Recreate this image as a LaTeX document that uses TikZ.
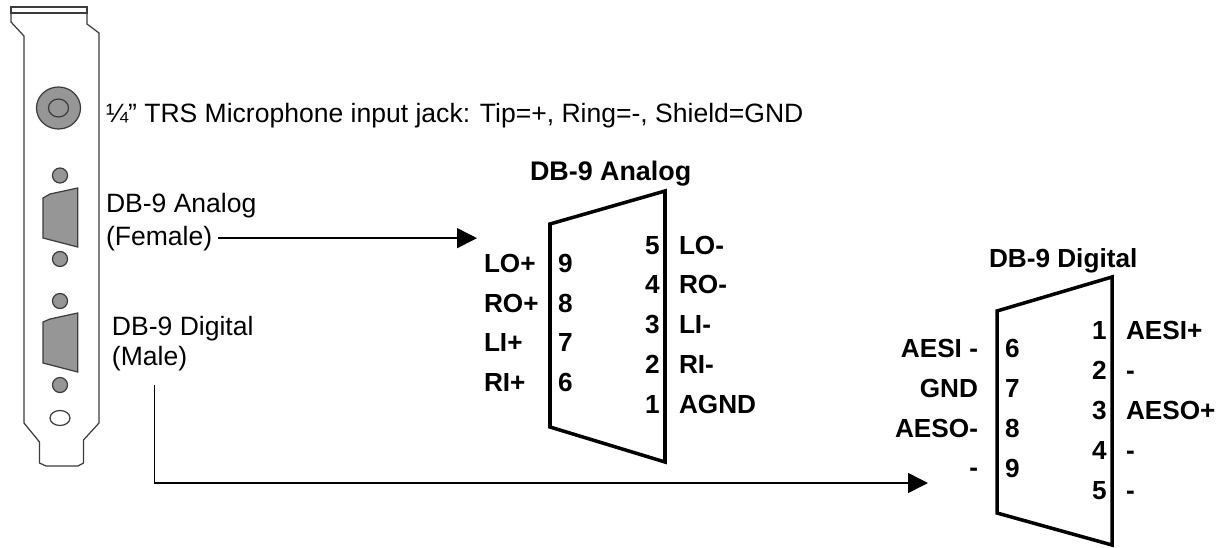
\documentclass[tikz,border=0pt]{standalone}
\usepackage{fontspec}
\setmainfont{Liberation Sans}
\usepackage{xcolor}
\usetikzlibrary{arrows.meta,calc}
\definecolor{holegray}{RGB}{150,150,150}
\definecolor{edgegray}{RGB}{60,60,60}

\begin{document}
\begin{tikzpicture}[x=0.02cm,y=-0.02cm]

           \tikzstyle{every node}=[inner sep=0pt,outer sep=0pt,anchor=base west]
           \tikzstyle{plain text}=[font=\fontsize{15.1}{15}\selectfont]
           \tikzstyle{pin text}=[font=\fontsize{14.9}{15}\bfseries\selectfont]
           \tikzstyle{pin left}=[pin text,anchor=base east]
           \tikzstyle{bracket}=[draw=edgegray,line width=0.7pt,fill=white]
           \tikzstyle{hole}=[draw=edgegray,line width=0.7pt,fill=holegray]
           \tikzstyle{shell}=[draw=black,line width=2pt,line join=miter]
           \tikzstyle{wire}=[draw=black,line width=0.9pt,-{Triangle[length=11.3pt,width=11.3pt]}]

    \useasboundingbox (0,0) rectangle (1225,548);

    \path[bracket] (11,13) -- (11,22) -- (24,36) -- (24,423) -- (39.5,442) -- (39.5,463) -- (46,466) -- (78,466) -- (83.5,463) -- (83.5,440) -- (99,423) -- (99,33) -- (87,24) -- (87,13) -- cycle;
    \path[bracket] (11,7) rectangle (87,13);

    \path[hole] (58.5,108) ellipse [x radius=22,y radius=21];
    \path[bracket,fill=none] (58.5,108) ellipse [x radius=10,y radius=9];

    \path[hole] (60,175.5) circle [radius=7.5];
    \path[hole] (43,198) -- (50,194) -- (77.7,188) -- (77.7,247) -- (43,238) -- cycle;
    \path[hole] (60,259) circle [radius=7.5];

    \path[hole] (60,301) circle [radius=7.5];
    \path[hole] (43,322) -- (50,319) -- (77.7,313) -- (77.7,372) -- (43,363) -- cycle;
    \path[hole] (60,385) circle [radius=7.5];
    \path[bracket] (60,418) ellipse [x radius=10,y radius=7.5];

    \node[plain text] (micLbl) at (106,122) {¼” TRS Microphone input jack: Tip=+, Ring=-, Shield=GND};
    \node[plain text] (anaLbl) at (106,212) {DB-9 Analog};
    \node[plain text] (femLbl) at (106,245) {(Female)};
    \node[plain text] (digLbl) at (112,335) {DB-9 Digital};
    \node[plain text] (malLbl) at (112,365) {(Male)};

    \path[shell] (550,224) -- (665,191) -- (665,462) -- (550,427) -- cycle;
    \path[shell] (997,311) -- (1112,277) -- (1112,545) -- (997,513) -- cycle;

    \node[pin text,font=\fontsize{15.3}{15}\bfseries\selectfont] (anaTitle) at (530,180) {DB-9 Analog};
    \node[pin text] (L1) at (484,272) {LO+};
    \node[pin text] (L2) at (484,312) {RO+};
    \node[pin text] (L3) at (484,351) {LI+};
    \node[pin text] (L4) at (484,391) {RI+};
    \node[pin text] (A9) at (558,272) {9};
    \node[pin text] (A8) at (558,312) {8};
    \node[pin text] (A7) at (558,351) {7};
    \node[pin text] (A6) at (558,391) {6};
    \node[pin text] (A5) at (645,254) {5};
    \node[pin text] (A4) at (645,293) {4};
    \node[pin text] (A3) at (645,333) {3};
    \node[pin text] (A2) at (645,373) {2};
    \node[pin text] (A1) at (645,413) {1};
    \node[pin text] (R1) at (679,254) {LO-};
    \node[pin text] (R2) at (679,293) {RO-};
    \node[pin text] (R3) at (679,333) {LI-};
    \node[pin text] (R4) at (679,373) {RI-};
    \node[pin text] (R5) at (679,413) {AGND};

    \node[pin text] (digTitle) at (989,267) {DB-9 Digital};
    \node[pin left] (P1) at (978,357) {AESI -};
    \node[pin left] (P2) at (978,397) {GND};
    \node[pin left] (P3) at (978,437) {AESO-};
    \node[pin left] (P4) at (978,476) {-};
    \node[pin text] (D6) at (1005,357) {6};
    \node[pin text] (D7) at (1005,397) {7};
    \node[pin text] (D8) at (1005,437) {8};
    \node[pin text] (D9) at (1005,477) {9};
    \node[pin text] (D1) at (1092,339) {1};
    \node[pin text] (D2) at (1092,379) {2};
    \node[pin text] (D3) at (1092,419) {3};
    \node[pin text] (D4) at (1092,459) {4};
    \node[pin text] (D5) at (1092,499) {5};
    \node[pin text] (Q1) at (1126,339) {AESI+};
    \node[pin text] (Q2) at (1126,379) {-};
    \node[pin text] (Q3) at (1126,419) {AESO+};
    \node[pin text] (Q4) at (1126,459) {-};
    \node[pin text] (Q5) at (1126,499) {-};

    \coordinate (tipA) at (477,238);
    \coordinate (tipB) at (928,483);
    \path[wire,shorten <=3.5pt] (femLbl.east) -- (tipA |- femLbl.east);
    \path[wire,shorten <=8pt] ($(malLbl.south)+(5,0)$) |- (tipB);

\end{tikzpicture}
\end{document}
